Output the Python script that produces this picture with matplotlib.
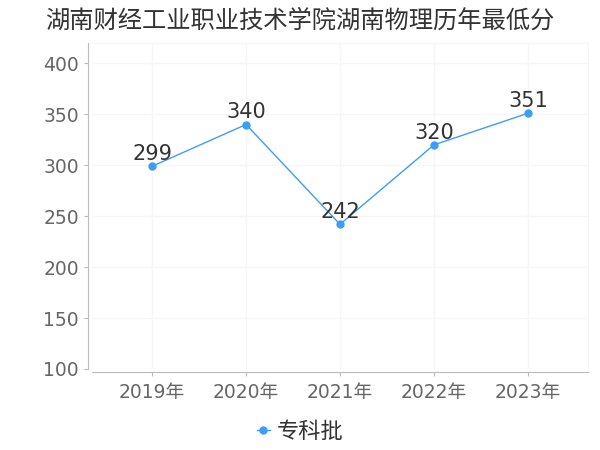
import matplotlib.pyplot as plt

plt.rcParams['font.family'] = ['DejaVu Sans', 'Noto Sans CJK SC']

# 数据
years = ['2019年', '2020年', '2021年', '2022年', '2023年']
scores = [299, 340, 242, 320, 351]
series_name = '专科批'
title = '湖南财经工业职业技术学院湖南物理历年最低分'

line_color = '#3d9df5'
grid_color = '#f6f6f6'

fig = plt.figure(figsize=(6, 4.5), dpi=100)
ax = fig.add_axes([92 / 600, 1 - 369 / 450, 496 / 600, 326 / 450])

x = list(range(len(years)))
ax.plot(x, scores, color=line_color, lw=1, marker='o', ms=5, label=series_name)

for xi, v in zip(x, scores):
    ax.annotate(str(v), (xi, v), xytext=(0, 1.5), textcoords='offset points',
                ha='center', va='bottom', fontsize=15, color='#333333')

ax.set_xlim(-0.64, 4.64)
ax.set_ylim(100, 420)
ax.set_yticks(range(100, 401, 50))
ax.set_xticks(x)
ax.set_xticklabels(years)

ax.grid(True, color=grid_color, lw=1)
ax.set_axisbelow(True)

for s in ['top', 'right']:
    ax.spines[s].set_color(grid_color)
ax.spines['left'].set_position(('outward', 3))
ax.spines['bottom'].set_position(('outward', 2.2))
ax.spines['left'].set_color('#bbbbbb')
ax.spines['bottom'].set_color('#bbbbbb')

ax.tick_params(axis='both', colors='#bbbbbb', labelcolor='#666666',
               labelsize=13.5, length=3)
ax.tick_params(axis='x', pad=5)

fig.text(0.5, 0.955, title, family=['Noto Sans CJK SC', 'DejaVu Sans'],
         ha='center', va='center', fontsize=17.5, color='#333333')

fig.legend(loc='center', bbox_to_anchor=(0.5, 1 - 432 / 450), frameon=False,
           fontsize=16, handlelength=0.6, handletextpad=0.3,
           labelcolor='#333333')

fig.savefig('out.png', dpi=100)
